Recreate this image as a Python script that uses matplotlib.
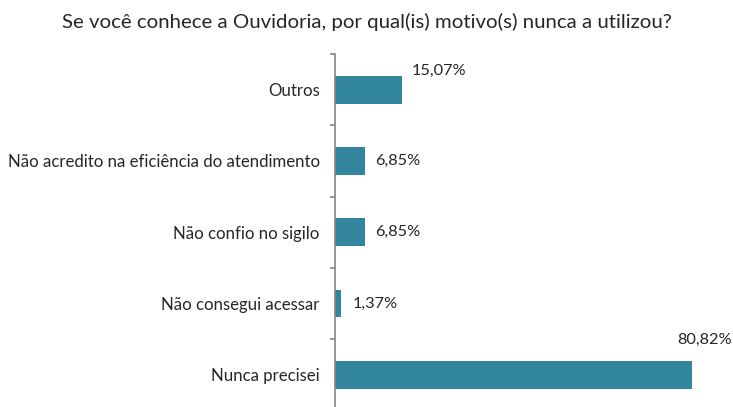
import matplotlib.pyplot as plt

# data (bottom to top)
categories = ['Nunca precisei', 'Não consegui acessar', 'Não confio no sigilo',
              'Não acredito na eficiência do atendimento', 'Outros']
values = [80.82, 1.37, 6.85, 6.85, 15.07]
labels = ['80,82%', '1,37%', '6,85%', '6,85%', '15,07%']

# label offsets in pixels (dx, dy), relative to bar end / bar centre
offsets = [(-15, 35), (12, 0), (10, 0), (10, 0), (10, 19)]

plt.rcParams['font.family'] = ['Lato', 'DejaVu Sans']

fig = plt.figure(figsize=(7.33, 4.07), dpi=100)
ax = fig.add_axes([335 / 733, -0.0086, 397.5 / 733, 0.876])

ypos = list(range(len(categories)))
ax.barh(ypos, values, height=0.39, color='#31859c')

for y, v, lab, (dx, dy) in zip(ypos, values, labels, offsets):
    ax.annotate(lab, (v, y), xytext=(dx * 0.72, dy * 0.72),
                textcoords='offset points', ha='left', va='center',
                fontsize=11.7, color='#262626')

ax.set_xlim(0, 90)
ax.set_ylim(-0.5, len(categories) - 0.5)
ax.set_yticks(ypos)
ax.set_yticklabels(categories, fontsize=12.1, color='#262626')
ax.tick_params(axis='y', which='major', length=0, pad=11)
ax.set_yticks([i - 0.5 for i in range(len(categories) + 1)], minor=True)
ax.tick_params(axis='y', which='minor', length=3.5, color='#868686', width=1.2)
ax.set_xticks([])

for s in ['top', 'right', 'bottom']:
    ax.spines[s].set_visible(False)
ax.spines['left'].set_color('#868686')
ax.spines['left'].set_linewidth(1.2)

fig.text(0.5, 1 - 22 / 407, 'Se você conhece a Ouvidoria, por qual(is) motivo(s) nunca a utilizou?',
         ha='center', va='center', fontsize=14.7, color='#262626')

fig.savefig('out.png', dpi=100)
